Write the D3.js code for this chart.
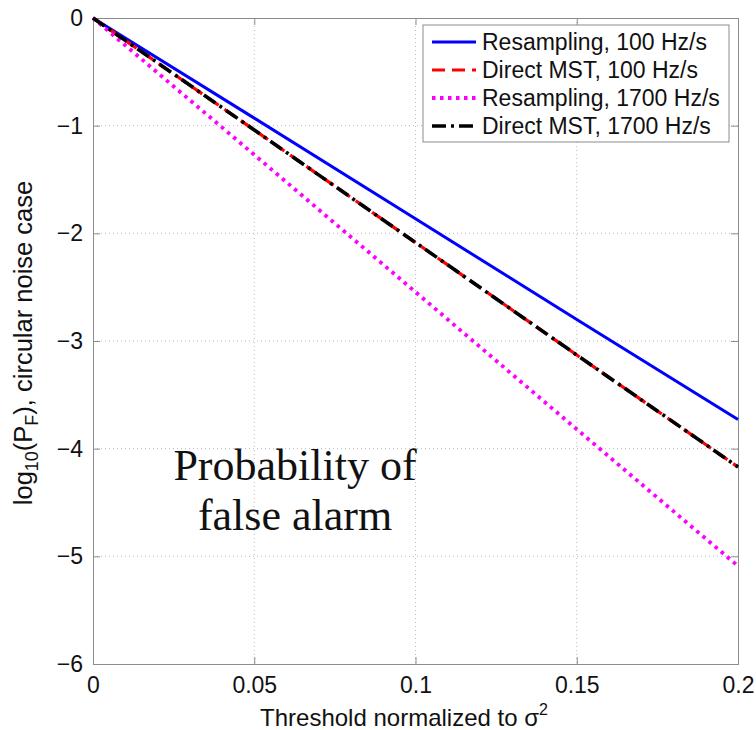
<!DOCTYPE html>
<html>
<head>
<meta charset="utf-8">
<title>Probability of false alarm</title>
<script src="https://d3js.org/d3.v7.min.js"></script>
<style>
  body { margin: 0; background: #fff; }
  svg text { font-family: "Liberation Sans", Arial, sans-serif; fill: #111; }
</style>
</head>
<body>
<svg id="chart" width="756" height="730"></svg>
<script>
// values (log10 of P_F at each threshold)
const thresholds = [0, 0.05, 0.1, 0.15, 0.2];
const resamp100 = [0, -0.93, -1.865, -2.80, -3.73];
const direct100 = [0, -1.04, -2.085, -3.13, -4.17];
const resamp1700 = [0, -1.27, -2.545, -3.82, -5.09];
const direct1700 = [0, -1.04, -2.085, -3.13, -4.17];
const seriesNames = ["Resampling, 100 Hz/s", "Direct MST, 100 Hz/s",
                     "Resampling, 1700 Hz/s", "Direct MST, 1700 Hz/s"];
const xTicks = [0, 0.05, 0.1, 0.15, 0.2];
const xTickLabels = ["0", "0.05", "0.1", "0.15", "0.2"];
const yTicks = [0, -1, -2, -3, -4, -5, -6];
const yTickLabels = ["0", "\u22121", "\u22122", "\u22123", "\u22124", "\u22125", "\u22126"];

const margin = {top: 18, right: 18, bottom: 66, left: 93};
const width = 756 - margin.left - margin.right,
      height = 730 - margin.top - margin.bottom;

const svg = d3.select("#chart");
const g = svg.append("g").attr("transform", `translate(${margin.left},${margin.top})`);

const x = d3.scaleLinear().domain([0, 0.2]).range([0, width]);
const y = d3.scaleLinear().domain([-6, 0]).range([height, 0]);

// dotted grid
g.append("g").selectAll("line").data(xTicks.slice(1, -1)).join("line")
  .attr("x1", d => x(d)).attr("x2", d => x(d)).attr("y1", 0).attr("y2", height)
  .attr("stroke", "#bbb").attr("stroke-width", 1).attr("stroke-dasharray", "1,3");
g.append("g").selectAll("line").data(yTicks.slice(1, -1)).join("line")
  .attr("y1", d => y(d)).attr("y2", d => y(d)).attr("x1", 0).attr("x2", width)
  .attr("stroke", "#bbb").attr("stroke-width", 1).attr("stroke-dasharray", "1,3");

// axes (ticks inward, MATLAB style)
const axisColor = "#8c8c8c";
const xAxis = g.append("g").attr("transform", `translate(0,${height})`)
  .call(d3.axisBottom(x).tickValues(xTicks).tickSize(-7).tickPadding(13)
        .tickFormat((d, i) => xTickLabels[i]));
const yAxis = g.append("g")
  .call(d3.axisLeft(y).tickValues(yTicks).tickSize(-7).tickPadding(10)
        .tickFormat((d, i) => yTickLabels[i]));
g.append("g").attr("transform", `translate(${width},0)`)
  .call(d3.axisRight(y).tickValues(yTicks).tickSize(-7).tickFormat(""));
g.append("g")
  .call(d3.axisTop(x).tickValues(xTicks).tickSize(-7).tickFormat(""));
g.selectAll(".domain, .tick line").attr("stroke", axisColor);
g.selectAll(".tick text").style("font-size", "23px").attr("fill", "#111");
xAxis.selectAll(".tick text").attr("dy", "0.71em");

// lines
const line = d3.line().x(d => x(d[0])).y(d => y(d[1]));
const styles = [
  {vals: resamp100, color: "#0000ff", dash: null, w: 3},
  {vals: direct100, color: "#ff0000", dash: "13,7", w: 3.2},
  {vals: resamp1700, color: "#ff00ff", dash: "3.5,4.5", w: 3.8},
  {vals: direct1700, color: "#000000", dash: "14,5,3,5", w: 3.6}
];
styles.forEach(s => {
  g.append("path")
    .datum(thresholds.map((t, i) => [t, s.vals[i]]))
    .attr("d", line)
    .attr("fill", "none")
    .attr("stroke", s.color)
    .attr("stroke-width", s.w)
    .attr("stroke-dasharray", s.dash);
});

// legend
const leg = svg.append("g").attr("transform", "translate(423,25)");
leg.append("rect").attr("width", 306).attr("height", 117)
  .attr("fill", "#fff").attr("stroke", axisColor).attr("stroke-width", 1);
styles.forEach((s, i) => {
  const yy = 17 + i * 28;
  leg.append("line").attr("x1", 9).attr("x2", 53).attr("y1", yy).attr("y2", yy)
    .attr("stroke", s.color).attr("stroke-width", s.w)
    .attr("stroke-dasharray", s.dash);
  leg.append("text").attr("x", 59).attr("y", yy + 8)
    .style("font-size", "23px").text(seriesNames[i]);
});

// axis labels
const xl = svg.append("text").attr("x", 404).attr("y", 726)
  .attr("text-anchor", "middle").style("font-size", "24px");
xl.append("tspan").text("Threshold normalized to \u03c3");
xl.append("tspan").style("font-size", "16px").attr("dy", -11).text("2");

const yl = svg.append("text")
  .attr("transform", "translate(32,343) rotate(-90)")
  .attr("text-anchor", "middle").style("font-size", "25.5px");
yl.append("tspan").text("log");
yl.append("tspan").style("font-size", "18px").attr("dy", 6).text("10");
yl.append("tspan").attr("dy", -6).text("(P");
yl.append("tspan").style("font-size", "18px").attr("dy", 6).text("F");
yl.append("tspan").attr("dy", -6).text("), circular noise case");

// annotation
const note = svg.append("text").attr("text-anchor", "middle")
  .style("font-family", "'Liberation Serif', 'DejaVu Serif', serif")
  .style("font-size", "44px");
note.append("tspan").attr("x", 295).attr("y", 480).text("Probability of");
note.append("tspan").attr("x", 295).attr("y", 530).text("false alarm");
</script>
</body>
</html>
